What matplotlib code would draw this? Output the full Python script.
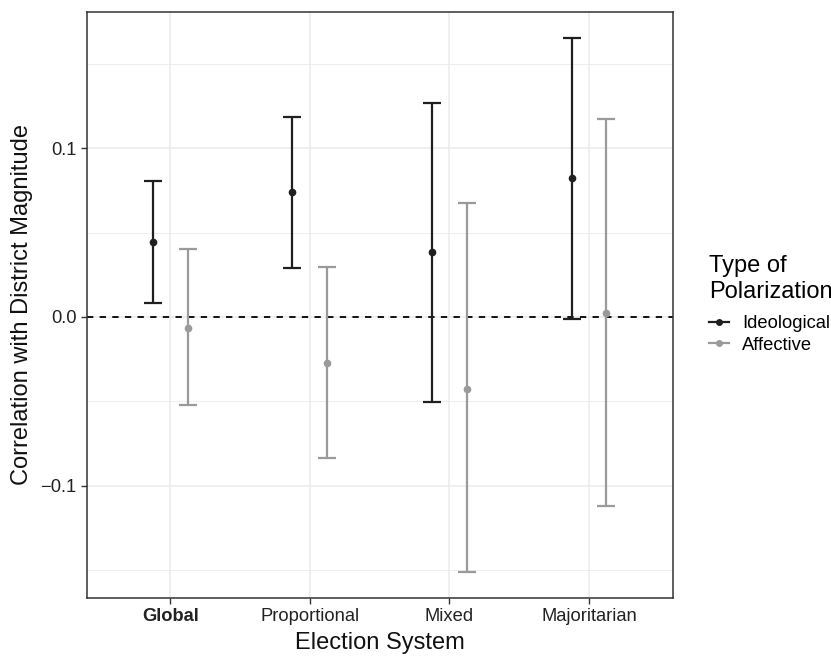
import matplotlib.pyplot as plt
import numpy as np
from matplotlib.lines import Line2D

plt.rcParams["font.family"] = ["Liberation Sans", "DejaVu Sans"]

systems = ["Global", "Proportional", "Mixed", "Majoritarian"]
ideo_est = [0.0445, 0.0739, 0.0384, 0.0824]
ideo_lo = [0.0083, 0.0291, -0.0507, -0.0014]
ideo_hi = [0.0806, 0.1184, 0.1267, 0.1653]
aff_est = [-0.0063, -0.0273, -0.0425, 0.0026]
aff_lo = [-0.0524, -0.0837, -0.1512, -0.1122]
aff_hi = [0.0402, 0.0297, 0.0675, 0.1172]

ideo_col = "#1f1f1f"
aff_col = "#9a9a9a"

fig = plt.figure(figsize=(8.31, 6.58), dpi=100)
ax = fig.add_axes([0.1043, 0.0916, 0.7052, 0.8906])

x = np.arange(1, len(systems) + 1)
dodge = 0.125

# grid
for y in [-0.15, -0.05, 0.05, 0.15]:
    ax.axhline(y, color="#ebebeb", lw=0.6, zorder=0)
for y in [-0.1, 0.0, 0.1]:
    ax.axhline(y, color="#ebebeb", lw=1.1, zorder=0)
for xi in x:
    ax.axvline(xi, color="#ebebeb", lw=1.1, zorder=0)

ax.axhline(0, color="black", lw=1.3, ls=(0, (3.5, 3.5)), zorder=1)

for est, lo, hi, col, off in [
    (ideo_est, ideo_lo, ideo_hi, ideo_col, -dodge),
    (aff_est, aff_lo, aff_hi, aff_col, dodge),
]:
    est = np.array(est)
    yerr = [est - np.array(lo), np.array(hi) - est]
    ax.errorbar(x + off, est, yerr=yerr, fmt="o", color=col, ms=4.5,
                elinewidth=1.6, capsize=6.5, capthick=1.6, zorder=3)

ax.set_xlim(0.4, 4.6)
ax.set_ylim(-0.1665, 0.181)
ax.set_yticks([-0.1, 0.0, 0.1])
ax.set_yticklabels(["\u22120.1", "0.0", "0.1"])
ax.set_xticks(x)
ax.set_xticklabels(systems)
ax.get_xticklabels()[0].set_fontweight("bold")

ax.tick_params(axis="both", labelsize=13.2, colors="#333333", length=4,
               width=1, labelcolor="#222222")
for s in ax.spines.values():
    s.set_color("#333333")
    s.set_linewidth(1.1)

ax.set_xlabel("Election System", fontsize=17, color="#111111", labelpad=5)
ax.set_ylabel("Correlation with District Magnitude", fontsize=17,
              color="#111111", labelpad=5)

handles = [
    Line2D([0], [0], color=ideo_col, marker="o", ms=4, lw=1.6),
    Line2D([0], [0], color=aff_col, marker="o", ms=4, lw=1.6),
]
leg = fig.legend(handles, ["Ideological", "Affective"],
                 title="Type of\nPolarization", loc="upper left",
                 bbox_to_anchor=(0.853, 0.612), frameon=False,
                 fontsize=13.2, title_fontsize=17, handlelength=1.1,
                 handletextpad=0.7, labelspacing=0.25, borderpad=0,
                 borderaxespad=0, alignment="left")
leg._legend_box.sep = 9

fig.savefig("out.png", dpi=100)
